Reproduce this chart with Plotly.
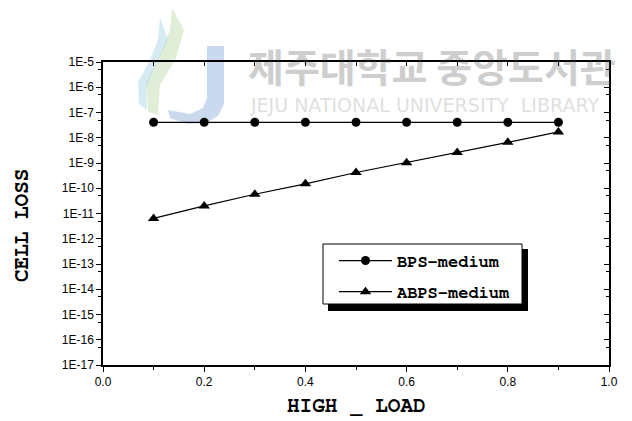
import plotly.graph_objects as go

# Offered high-priority load and the measured cell loss ratio of each scheme
high_load = [0.1, 0.2, 0.3, 0.4, 0.5, 0.6, 0.7, 0.8, 0.9]
bps_medium = [4.1e-8, 4.1e-8, 4.1e-8, 4.1e-8, 4.1e-8, 4.1e-8, 4.1e-8, 4.1e-8, 4.1e-8]
abps_medium = [6.4e-12, 2.0e-11, 5.8e-11, 1.5e-10, 4.2e-10, 1.03e-9, 2.6e-9, 6.6e-9, 1.7e-8]

x_ticks = [0.0, 0.2, 0.4, 0.6, 0.8, 1.0]
x_tick_text = ["0.0", "0.2", "0.4", "0.6", "0.8", "1.0"]
x_minor = [0.1, 0.3, 0.5, 0.7, 0.9]
y_exponents = list(range(-17, -4))
y_ticks = [10.0 ** e for e in y_exponents]
y_tick_text = ["1E%d" % e for e in y_exponents]
y_minor = [5 * 10.0 ** e for e in range(-17, -5)]

W, H = 632, 421
L, R, T, B = 103, 23, 62, 56
PW, PH = W - L - R, H - T - B


def px(x):
    return (x - L) / PW


def py(y):
    return (H - B - y) / PH


fig = go.Figure()

fig.add_trace(go.Scatter(
    x=high_load, y=bps_medium, name="BPS-medium", mode="lines+markers",
    legendgroup="bps",
    line=dict(color="black", width=1.2),
    marker=dict(symbol="circle", size=9, color="black"),
))
fig.add_trace(go.Scatter(
    x=high_load, y=abps_medium, name="ABPS-medium", mode="lines+markers",
    legendgroup="abps",
    line=dict(color="black", width=1.2),
    marker=dict(symbol="triangle-up", size=10, color="black"),
))
# invisible trace that carries the mirrored top/right frame axes
fig.add_trace(go.Scatter(x=[None], y=[None], xaxis="x2", yaxis="y2",
                         showlegend=False, hoverinfo="skip"))

tick_font = dict(family="Liberation Sans, Arial, sans-serif", size=12, color="black")
mono = "FreeMono, Courier New, monospace"

fig.update_layout(
    width=W, height=H,
    margin=dict(l=L, r=R, t=T, b=B),
    paper_bgcolor="white", plot_bgcolor="white",
    showlegend=True,
    legend=dict(
        x=px(334), y=py(243), xanchor="left", yanchor="top",
        bgcolor="rgba(0,0,0,0)", borderwidth=0,
        font=dict(family=mono, size=17, color="black", weight="bold"),
        itemwidth=53, tracegroupgap=6,
    ),
    xaxis=dict(
        range=[0, 1], tickvals=x_ticks, ticktext=x_tick_text,
        ticks="outside", ticklen=5, tickwidth=1.2, tickcolor="black",
        minor=dict(tickvals=x_minor, ticks="outside", ticklen=3, tickwidth=1.2, tickcolor="black"),
        showline=True, linecolor="black", linewidth=1.5,
        showgrid=False, zeroline=False, tickfont=tick_font,
    ),
    yaxis=dict(
        type="log", range=[-17, -5], tickvals=y_ticks, ticktext=y_tick_text,
        ticks="outside", ticklen=5, tickwidth=1.2, tickcolor="black",
        minor=dict(tickvals=y_minor, ticks="outside", ticklen=3, tickwidth=1.2, tickcolor="black"),
        showline=True, linecolor="black", linewidth=1.5,
        showgrid=False, zeroline=False, tickfont=tick_font,
    ),
    xaxis2=dict(
        overlaying="x", side="top", anchor="y", range=[0, 1],
        tickvals=x_ticks + x_minor, ticks="inside", ticklen=4, tickwidth=1.2,
        tickcolor="black", showticklabels=False,
        showline=True, linecolor="black", linewidth=1.5, showgrid=False, zeroline=False,
    ),
    yaxis2=dict(
        overlaying="y", side="right", anchor="x", type="log", range=[-17, -5],
        tickvals=y_ticks, ticks="inside", ticklen=5, tickwidth=1.2, tickcolor="black",
        minor=dict(tickvals=y_minor, ticks="inside", ticklen=3, tickwidth=1.2, tickcolor="black"),
        showticklabels=False,
        showline=True, linecolor="black", linewidth=1.5, showgrid=False, zeroline=False,
    ),
)

title_font = dict(family=mono, size=21, color="black", weight="bold")
fig.add_annotation(text="HIGH _ LOAD", xref="paper", yref="paper",
                   x=px(356), y=py(405), xanchor="center", yanchor="middle",
                   showarrow=False, font=title_font)
fig.add_annotation(text="CELL LOSS", xref="paper", yref="paper", textangle=-90,
                   x=px(21), y=py(226), xanchor="center", yanchor="middle",
                   showarrow=False, font=title_font)

# legend frame with its drop shadow (drawn under the legend entries)
fig.add_shape(type="rect", xref="paper", yref="paper",
              x0=px(328), x1=px(528), y0=py(311), y1=py(249),
              fillcolor="black", line=dict(width=0), layer="above")
fig.add_shape(type="rect", xref="paper", yref="paper",
              x0=px(323), x1=px(522), y0=py(304), y1=py(244),
              fillcolor="white", line=dict(color="black", width=1), layer="above")

# library watermark
fig.add_annotation(text="제주대학교 중앙도서관", xref="paper", yref="paper",
                   x=px(246), y=py(65), xanchor="left", yanchor="middle", showarrow=False,
                   font=dict(family="Noto Sans CJK KR", size=39, color="#444444", weight="bold"),
                   opacity=0.26)
fig.add_annotation(text="JEJU NATIONAL UNIVERSITY  LIBRARY", xref="paper", yref="paper",
                   x=px(248), y=py(105), xanchor="left", yanchor="middle", showarrow=False,
                   font=dict(family="DejaVu Sans, sans-serif", size=19, color="#666666"),
                   opacity=0.2)


def path(points):
    return "M " + " L ".join("%.4f,%.4f" % (px(a), py(b)) for a, b in points) + " Z"


fig.add_shape(type="path", xref="paper", yref="paper", layer="below",
              path=path([(207, 46), (224, 46), (224, 104), (218, 116), (206, 123),
                         (188, 124), (170, 118), (168, 110), (190, 114), (203, 108), (207, 98)]),
              fillcolor="#a9bfe3", line=dict(width=0), opacity=0.6)
fig.add_shape(type="path", xref="paper", yref="paper", layer="below",
              path=path([(172, 8), (184, 30), (176, 58), (160, 85), (158, 115), (148, 112),
                         (146, 82), (160, 55), (170, 30)]),
              fillcolor="#c6dfb6", line=dict(width=0), opacity=0.55)
fig.add_shape(type="path", xref="paper", yref="paper", layer="below",
              path=path([(160, 18), (168, 40), (156, 64), (146, 88), (147, 110), (139, 104),
                         (138, 82), (150, 60), (158, 40)]),
              fillcolor="#b4d8ea", line=dict(width=0), opacity=0.55)

fig.write_html("out.html")
